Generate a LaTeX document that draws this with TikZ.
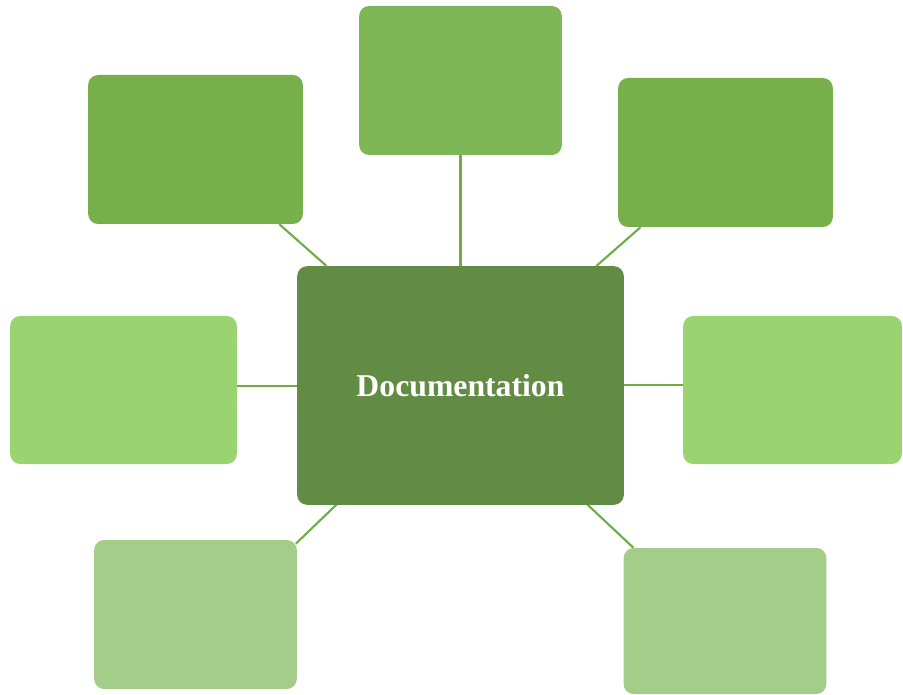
\documentclass[tikz,border=0pt]{standalone}
\usepackage{fontspec}
\setmainfont{Liberation Serif}
\usetikzlibrary{backgrounds}
\definecolor{maingreen}{HTML}{628B44}
\definecolor{topgreen}{HTML}{7DB756}
\definecolor{midgreen}{HTML}{77B04A}
\definecolor{lightgreen}{HTML}{9AD471}
\definecolor{palegreen}{HTML}{A3CD88}
\definecolor{linkgreen}{HTML}{70AD47}
\tikzset{gbox/.style={
    rectangle,
    rounded corners=7.5pt,
    inner sep=0pt,
    minimum height=111.75pt,
    minimum width=152pt
  },
  topbox/.style={gbox,fill=topgreen},
  cornbox/.style={gbox,fill=midgreen,minimum width=161pt},
  sidebox/.style={gbox,fill=lightgreen,minimum height=111pt},
  lowbox/.style={gbox,fill=palegreen},
  mainbox/.style={gbox,fill=maingreen,minimum width=245pt,minimum height=179pt,
    text=white,font=\fontsize{23.8}{28}\selectfont\bfseries},
  link/.style={draw=linkgreen,line width=1.6pt},
}

\begin{document}
\begin{tikzpicture}[x=0.75pt,y=-0.75pt]
  \useasboundingbox (0,0) rectangle (903,695);
  \node [mainbox] (doc) at (460.5,385.5) {Documentation};
  \node [topbox] (top) at (460.5,80.5) {};
  \node [cornbox] (topleft) at (195.5,149.5) {};
  \node [cornbox] (topright) at (725.5,152.5) {};
  \node [sidebox,minimum width=170pt] (left) at (123.5,390) {};
  \node [sidebox,minimum width=164pt] (right) at (792.5,390) {};
  \node [lowbox] (lowleft) at (195.5,614.5) {};
  \node [lowbox,minimum height=109.5pt] (lowright) at (725,621) {};
  \draw[link] (doc) -- (top);
  \draw[link] (doc) -- (topleft);
  \draw[link] (doc) -- (topright);
  \draw[link] (doc.west |- 0,386) -- (left.east |- 0,386);
  \draw[link] (doc.east |- 0,385) -- (right.west |- 0,385);
  % lower links run under the boxes, to their corners
  \begin{scope}[on background layer]
    \draw[link] (doc.center) -- ([xshift=-1pt,yshift=-3pt]lowleft.north east);
    \draw[link] (doc.center) -- ([xshift=7.5pt]lowright.north west);
  \end{scope}
\end{tikzpicture}
\end{document}
